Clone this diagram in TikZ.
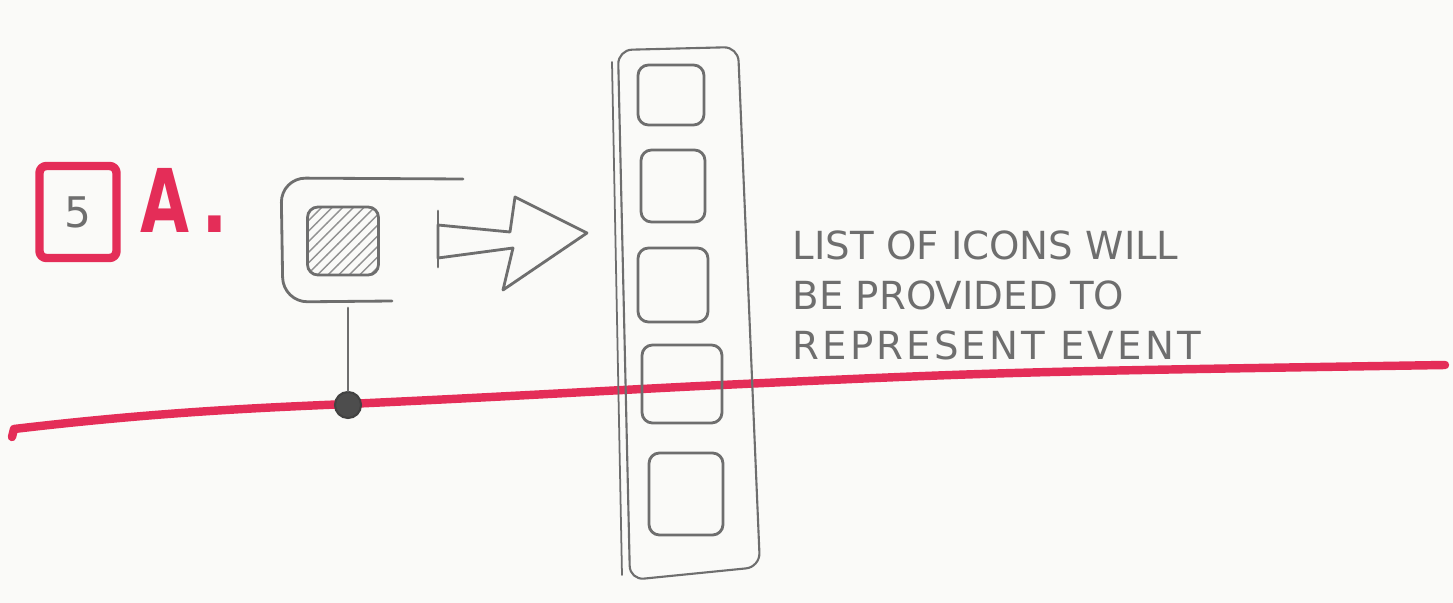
\documentclass[tikz,border=0pt]{standalone}
\usepackage{fontspec}
\setmainfont{DejaVu Sans}
\usetikzlibrary{patterns}
\definecolor{pencil}{RGB}{110,110,110}
\definecolor{marker}{RGB}{228,45,88}
\definecolor{paper}{RGB}{250,250,248}
\begin{document}
\begin{tikzpicture}[x=0.01cm,y=-0.01cm,
  pencilline/.style={draw=pencil, line width=0.8pt, line cap=round, line join=round},
  markerline/.style={draw=marker, line width=2.4pt, line cap=round, line join=round},
  iconbox/.style={pencilline, rounded corners=3pt, inner sep=0pt},
]
\fill[paper] (0,0) rectangle (1453,603);
\useasboundingbox (0,0) rectangle (1453,603);

% red tag with 5
\node[markerline, rounded corners=2pt, minimum width=0.77cm, minimum height=0.92cm, inner sep=0pt,
      text=pencil, font=\fontsize{12}{14}\selectfont] (tag) at (78,212) {5};
\node[anchor=base west, inner sep=0pt, text=marker, font=\fontsize{25}{28}\selectfont\bfseries] (label) at (140,232)
  {\scalebox{0.72}[1]{A}\hspace{0.12cm}\scalebox{0.8}[1]{.}};

% event frame with hatched icon
\coordinate (ftop) at (463,179);
\coordinate (fbot) at (392,301);
\draw[pencilline, rounded corners=7pt] (ftop) -- (281,178) -- (283,302) -- (fbot);
\node[iconbox, minimum width=0.71cm, minimum height=0.68cm,
      pattern=north east lines, pattern color=pencil!75] (icon) at (343,241) {};

% red timeline
\draw[markerline] (12,437) -- (14,429) .. controls (150,413) and (250,408) .. (348,404)
  .. controls (500,397) and (600,391) .. (700,386) .. controls (1000,372) .. (1445,365);

% stem and dot
\coordinate (stem) at (348,308);
\node[circle, fill=pencil!70!black, draw=pencil!60!black, line width=0.6pt,
      minimum size=0.26cm, inner sep=0pt] (dot) at (348,405) {};
\draw[pencilline] (stem) -- (dot);

% block arrow
\draw[pencilline] (438,225) -- (510,232) -- (515,197) -- (587,233) -- (503,290) -- (513,248) -- (438,258) -- cycle;
\draw[pencilline] (438,211) -- (438,267);

% column of icons
\draw[pencilline, line width=0.6pt, rounded corners=4pt] (618,50) -- (738,47) -- (760,567) -- (630,580) -- cycle;
\draw[pencilline, line width=0.5pt] (612,62) -- (622,575);
\node[iconbox, minimum width=0.66cm, minimum height=0.60cm] (i1) at (671,95) {};
\node[iconbox, minimum width=0.64cm, minimum height=0.72cm] (i2) at (673,186) {};
\node[iconbox, minimum width=0.70cm, minimum height=0.74cm] (i3) at (673,285) {};
\node[iconbox, minimum width=0.80cm, minimum height=0.78cm] (i4) at (682,384) {};
\node[iconbox, minimum width=0.74cm, minimum height=0.82cm] (i5) at (686,494) {};

% note
\node[anchor=north west, inner sep=0pt, align=left, text=pencil,
      font=\fontsize{11}{14.2}\selectfont] (note) at (792,230)
  {LIST OF ICONS WILL\\BE PROVIDED TO\\\addfontfeature{LetterSpace=8}REPRESENT EVENT};
\end{tikzpicture}
\end{document}
